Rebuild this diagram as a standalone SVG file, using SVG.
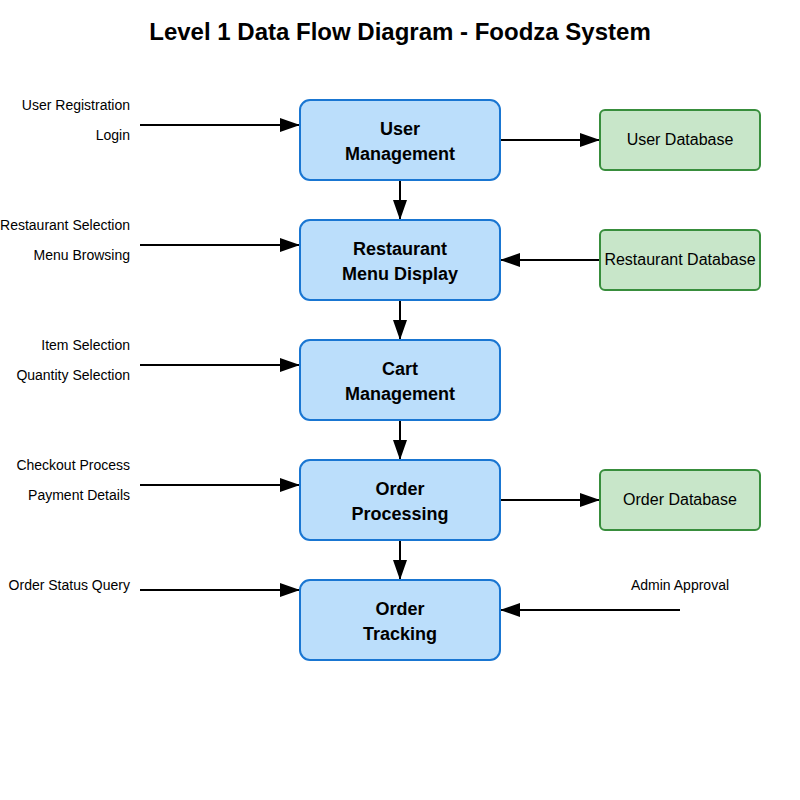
<svg xmlns="http://www.w3.org/2000/svg" width="800" height="800" viewBox="0 0 800 800">
<style>
.proc{fill:#bbdefb;stroke:#1976d2;stroke-width:2}
.db{fill:#c8e6c9;stroke:#388e3c;stroke-width:2}
.pt{font-family:"Liberation Sans",Arial,sans-serif;font-size:18px;font-weight:bold;fill:#000;text-anchor:middle}
.dt{font-family:"Liberation Sans",Arial,sans-serif;font-size:16px;fill:#000;text-anchor:middle}
.lbl{font-family:"Liberation Sans",Arial,sans-serif;font-size:14px;fill:#000;text-anchor:end}
.title{font-family:"Liberation Sans",Arial,sans-serif;font-size:24px;font-weight:bold;fill:#000;text-anchor:middle}
.c{stroke:#000;stroke-width:2;fill:none;marker-end:url(#ah)}
</style>
<defs>
<marker id="ah" markerWidth="10" markerHeight="7" refX="10" refY="3.5" orient="auto" markerUnits="strokeWidth">
<polygon points="0 0,10 3.5,0 7" fill="#000"/>
</marker>
</defs>
<rect width="800" height="800" fill="#fff"/>
<text class="title" x="400" y="40">Level 1 Data Flow Diagram - Foodza System</text>
<g id="connectors">
<line class="c" x1="140" y1="125" x2="300" y2="125"/>
<line class="c" x1="500" y1="140" x2="600" y2="140"/>
<line class="c" x1="400" y1="180" x2="400" y2="220"/>
<line class="c" x1="140" y1="245" x2="300" y2="245"/>
<line class="c" x1="600" y1="260" x2="500" y2="260"/>
<line class="c" x1="400" y1="300" x2="400" y2="340"/>
<line class="c" x1="140" y1="365" x2="300" y2="365"/>
<line class="c" x1="400" y1="420" x2="400" y2="460"/>
<line class="c" x1="140" y1="485" x2="300" y2="485"/>
<line class="c" x1="500" y1="500" x2="600" y2="500"/>
<line class="c" x1="400" y1="540" x2="400" y2="580"/>
<line class="c" x1="140" y1="590" x2="300" y2="590"/>
<line class="c" x1="680" y1="610" x2="500" y2="610"/>
</g>
<g id="labels">
<text class="lbl" x="130" y="110">User Registration</text>
<text class="lbl" x="130" y="140">Login</text>
<text class="lbl" x="130" y="230">Restaurant Selection</text>
<text class="lbl" x="130" y="260">Menu Browsing</text>
<text class="lbl" x="130" y="350">Item Selection</text>
<text class="lbl" x="130" y="380">Quantity Selection</text>
<text class="lbl" x="130" y="470">Checkout Process</text>
<text class="lbl" x="130" y="500">Payment Details</text>
<text class="lbl" x="130" y="590">Order Status Query</text>
<text class="lbl" x="680" y="590" style="text-anchor:middle">Admin Approval</text>
</g>
<g id="user-management">
<rect class="proc" x="300" y="100" width="200" height="80" rx="10"/>
<text class="pt" x="400" y="135">User</text>
<text class="pt" x="400" y="160">Management</text>
</g>
<g id="restaurant-menu-display">
<rect class="proc" x="300" y="220" width="200" height="80" rx="10"/>
<text class="pt" x="400" y="255">Restaurant</text>
<text class="pt" x="400" y="280">Menu Display</text>
</g>
<g id="cart-management">
<rect class="proc" x="300" y="340" width="200" height="80" rx="10"/>
<text class="pt" x="400" y="375">Cart</text>
<text class="pt" x="400" y="400">Management</text>
</g>
<g id="order-processing">
<rect class="proc" x="300" y="460" width="200" height="80" rx="10"/>
<text class="pt" x="400" y="495">Order</text>
<text class="pt" x="400" y="520">Processing</text>
</g>
<g id="order-tracking">
<rect class="proc" x="300" y="580" width="200" height="80" rx="10"/>
<text class="pt" x="400" y="615">Order</text>
<text class="pt" x="400" y="640">Tracking</text>
</g>
<g id="user-database">
<rect class="db" x="600" y="110" width="160" height="60" rx="5"/>
<text class="dt" x="680" y="145">User Database</text>
</g>
<g id="restaurant-database">
<rect class="db" x="600" y="230" width="160" height="60" rx="5"/>
<text class="dt" x="680" y="265">Restaurant Database</text>
</g>
<g id="order-database">
<rect class="db" x="600" y="470" width="160" height="60" rx="5"/>
<text class="dt" x="680" y="505">Order Database</text>
</g>
</svg>
